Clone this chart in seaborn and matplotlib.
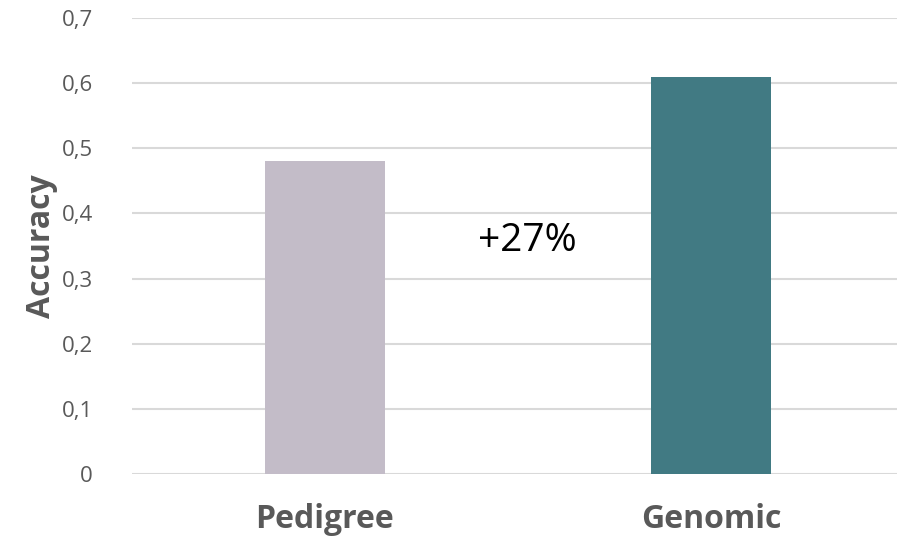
import matplotlib
matplotlib.use("Agg")
import matplotlib.pyplot as plt
from matplotlib.ticker import FuncFormatter, MultipleLocator
import seaborn as sns
import pandas as pd

# Prediction accuracy by evaluation method
methods = ["Pedigree", "Genomic"]
accuracy = [0.48, 0.61]
bar_colors = ["#c3bcc8", "#417a83"]
gain_label = "+27%"

df = pd.DataFrame({"method": methods, "accuracy": accuracy})

sns.set_theme(style="white")
plt.rcParams["font.family"] = ["Open Sans", "DejaVu Sans"]

fig = plt.figure(figsize=(8.97, 5.42), dpi=100)
ax = fig.add_axes([0.147, 0.1255, 0.861, 0.8413])

sns.barplot(data=df, x="method", y="accuracy", hue="method",
            palette=bar_colors, width=0.31, legend=False, ax=ax,
            saturation=1, linewidth=0, zorder=3)

ax.set_ylim(0, 0.7)
ax.yaxis.set_major_locator(MultipleLocator(0.1))
ax.yaxis.set_major_formatter(
    FuncFormatter(lambda v, _: "0" if abs(v) < 1e-9 else f"{v:.1f}".replace(".", ",")))
ax.grid(axis="y", color="#d9d9d9", linewidth=1.5, zorder=0)
ax.set_axisbelow(True)
for s in ax.spines.values():
    s.set_visible(False)

ax.tick_params(axis="y", length=0, pad=28, labelsize=16, labelcolor="#595959")
ax.tick_params(axis="x", length=0, pad=21, labelcolor="#595959")
for lbl in ax.get_xticklabels():
    lbl.set_fontsize(23)
    lbl.set_fontweight("bold")

ax.set_xlabel("")
ax.set_ylabel("Accuracy", fontsize=23, fontweight="bold", color="#595959", labelpad=3)

# relative gain of genomic over pedigree accuracy, placed between the bars
ax.text(0.523, 0.357, gain_label, ha="center", va="center", fontsize=28, color="black")

fig.savefig("out.png", dpi=100)
